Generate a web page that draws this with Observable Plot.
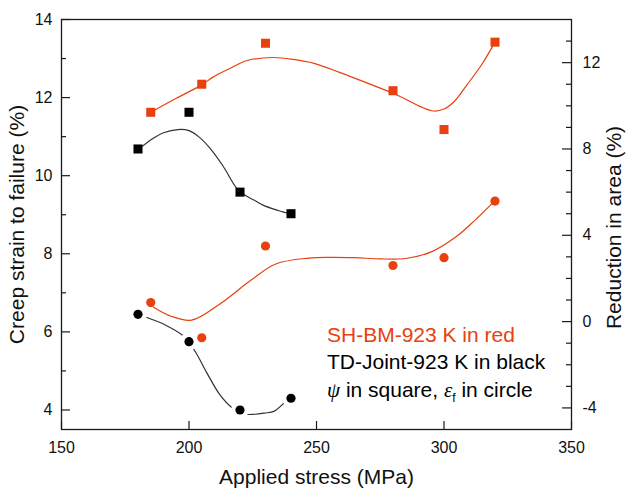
<!DOCTYPE html>
<html>
<head>
<meta charset="utf-8">
<script src="https://cdn.jsdelivr.net/npm/d3@7"></script>
<script src="https://cdn.jsdelivr.net/npm/@observablehq/plot@0.6"></script>
<style>
  body { margin: 0; background: #fff; }
  #chart { width: 627px; height: 489px; }
</style>
</head>
<body>
<div id="chart"></div>
<script>
// Applied stress (MPa) of each test
const redStress = [185, 205, 230, 280, 300, 320];     // SH-BM-923 K
const blackStress = [180, 200, 220, 240];             // TD-Joint-923 K

// Reduction in area, psi (%) - right axis, squares
const redPsi = [9.7, 11.0, 12.9, 10.7, 8.9, 12.95];
const blackPsi = [8.0, 9.7, 6.0, 5.0];

// Creep strain to failure, epsilon_f (%) - left axis, circles
const redEf = [6.75, 5.85, 8.2, 7.7, 7.9, 9.35];
const blackEf = [6.45, 5.75, 4.0, 4.3];

// Smoothed fit curves through each series
const redPsiFitX = [185, 195, 205, 209.4, 216, 222.5, 233, 241, 249, 259, 270, 280, 285.4, 291, 296, 300, 304, 309, 315, 320];
const redPsiFit  = [9.7, 10.35, 10.97, 11.33, 11.73, 12.09, 12.24, 12.15, 11.97, 11.55, 11.05, 10.58, 10.28, 9.95, 9.76, 9.85, 10.2, 10.97, 11.95, 12.95];

const blackPsiFitX = [180, 186, 190, 195.7, 200, 204, 208.2, 213.4, 218.6, 222, 226, 229, 235, 240];
const blackPsiFit  = [7.97, 8.5, 8.75, 8.9, 8.85, 8.55, 8.04, 7.2, 6.2, 5.85, 5.6, 5.4, 5.15, 4.98];

const redEfFitX = [186, 193, 201, 212, 224, 234, 247, 255, 265, 275, 285, 295, 305, 312, 320];
const redEfFit  = [6.64, 6.4, 6.3, 6.71, 7.31, 7.74, 7.89, 7.91, 7.9, 7.87, 7.88, 8.05, 8.45, 8.85, 9.36];

const blackEfFitX = [180, 185, 190, 197.7, 202.3, 207, 212, 217, 221, 225.8, 229.6, 233.5, 237, 240];
const blackEfFit  = [6.45, 6.33, 6.2, 5.9, 5.51, 4.95, 4.4, 4.05, 3.9, 3.89, 3.92, 3.97, 4.16, 4.3];

// Tick values
const xTicks = [150, 200, 250, 300, 350];
const leftTicks = [4, 6, 8, 10, 12, 14];
const leftMinor = [5, 7, 9, 11, 13];
const rightTicks = [-4, 0, 4, 8, 12];
const rightMinor = [-3, -2, -1, 1, 2, 3, 5, 6, 7, 9, 10, 11, 13];

// Text
const xLabel = "Applied stress (MPa)";
const leftLabel = "Creep strain to failure (%)";
const rightLabel = "Reduction in area (%)";
const legendRed = "SH-BM-923 K in red";
const legendBlack = "TD-Joint-923 K in black";

const RED = "#e8400e";
const FONT = "'Liberation Sans', Arial, Helvetica, sans-serif";
const SERIF = "'Liberation Serif', 'Times New Roman', serif";

// Frame geometry
const W = 627, H = 489;
const M = {left: 61, right: 56, top: 19, bottom: 60};
const innerW = W - M.left - M.right;
const innerH = H - M.top - M.bottom;

// The right axis shares the plot's y scale through a linear mapping
const leftDomain = [3.5, 14];
const rightDomain = [-5, 14];
const k = (leftDomain[1] - leftDomain[0]) / (rightDomain[1] - rightDomain[0]);
const toLeft = r => leftDomain[0] + (r - rightDomain[0]) * k;
const fromLeft = v => rightDomain[0] + (v - leftDomain[0]) / k;

const pts = (xs, ys, f = v => v) => xs.map((x, i) => ({x, y: f(ys[i])}));

const redSq = pts(redStress, redPsi, toLeft);
const blackSq = pts(blackStress, blackPsi, toLeft);
const redCi = pts(redStress, redEf);
const blackCi = pts(blackStress, blackEf);

const redSqFit = pts(redPsiFitX, redPsiFit, toLeft);
const blackSqFit = pts(blackPsiFitX, blackPsiFit, toLeft);
const redCiFit = pts(redEfFitX, redEfFit);
const blackCiFit = pts(blackEfFitX, blackEfFit);

// inward tick marks, drawn as short ticks inset from the far side of the frame
const ticksLeft = (vals, len) => Plot.tickY(vals, {y: d => d, insetRight: innerW - len, stroke: "#1a1a1a", strokeWidth: 1.2});
const ticksRight = (vals, len) => Plot.tickY(vals, {y: d => d, insetLeft: innerW - len, stroke: "#1a1a1a", strokeWidth: 1.2});

const chart = Plot.plot({
  width: W,
  height: H,
  marginLeft: M.left,
  marginRight: M.right,
  marginTop: M.top,
  marginBottom: M.bottom,
  style: {fontFamily: FONT, fontSize: "16px", color: "#111", background: "#fff"},
  x: {domain: [150, 350]},
  y: {domain: leftDomain},
  marks: [
    // fitted curves
    Plot.line(redSqFit, {x: "x", y: "y", stroke: RED, strokeWidth: 1.2, curve: "catmull-rom"}),
    Plot.line(blackSqFit, {x: "x", y: "y", stroke: "#333", strokeWidth: 1.2, curve: "catmull-rom"}),
    Plot.line(redCiFit, {x: "x", y: "y", stroke: RED, strokeWidth: 1.2, curve: "catmull-rom"}),
    Plot.line(blackCiFit, {x: "x", y: "y", stroke: "#333", strokeWidth: 1.2, curve: "catmull-rom"}),
    // white gap around the black circles
    Plot.dot(blackCi, {x: "x", y: "y", r: 9, fill: "#fff"}),
    // data symbols
    Plot.dot(redSq, {x: "x", y: "y", symbol: "square", r: 5.1, fill: RED}),
    Plot.dot(blackSq, {x: "x", y: "y", symbol: "square", r: 5.1, fill: "#000"}),
    Plot.dot(redCi, {x: "x", y: "y", r: 4.6, fill: RED}),
    Plot.dot(blackCi, {x: "x", y: "y", r: 4.6, fill: "#000"}),
    // tick labels
    Plot.axisX(xTicks, {anchor: "bottom", tickSize: 0, tickPadding: 12, label: null, tickFormat: d => String(d), fontSize: 16}),
    Plot.axisY(leftTicks, {anchor: "left", tickSize: 0, tickPadding: 9, label: null, tickFormat: d => String(d), fontSize: 16}),
    Plot.axisY(rightTicks.map(toLeft), {anchor: "right", tickSize: 0, tickPadding: 11, label: null,
      tickFormat: d => String(Math.round(fromLeft(d))), fontSize: 16}),
    // tick marks pointing into the frame
    Plot.tickX(xTicks, {x: d => d, insetTop: innerH - 8, stroke: "#1a1a1a", strokeWidth: 1.2}),
    ticksLeft(leftTicks, 9),
    ticksLeft(leftMinor, 5),
    ticksRight(rightTicks.map(toLeft), 9),
    ticksRight(rightMinor.map(toLeft), 5),
    Plot.frame({stroke: "#1a1a1a", strokeWidth: 1.3}),
    // axis titles
    Plot.text([xLabel], {text: d => d, frameAnchor: "bottom", dy: 48, lineAnchor: "middle", textAnchor: "middle", fontSize: 21}),
    Plot.text([leftLabel], {text: d => d, frameAnchor: "left", dx: -44, rotate: -90, lineAnchor: "middle", textAnchor: "middle", fontSize: 21}),
    Plot.text([rightLabel], {text: d => d, frameAnchor: "right", dx: 43, dy: 3, rotate: -90, lineAnchor: "middle", textAnchor: "middle", fontSize: 21})
  ]
});

// In-plot key: three lines, the last with Greek symbols
const svg = d3.select(chart);
const key = svg.append("g")
  .attr("font-family", FONT)
  .attr("font-size", 21)
  .attr("text-anchor", "start");
key.append("text").attr("x", 327).attr("y", 342).attr("fill", RED).text(legendRed);
key.append("text").attr("x", 327).attr("y", 369).attr("fill", "#000").text(legendBlack);
const third = key.append("text").attr("x", 327).attr("y", 397).attr("fill", "#000");
third.append("tspan").attr("font-family", SERIF).attr("font-style", "italic").text("\u03C8");
third.append("tspan").text(" in square, ");
third.append("tspan").attr("font-family", SERIF).attr("font-style", "italic").text("\u03B5");
third.append("tspan").attr("font-size", 12).attr("dy", 5).text("f");
third.append("tspan").attr("dy", -5).text(" in circle");

document.getElementById("chart").appendChild(chart);
</script>
</body>
</html>
